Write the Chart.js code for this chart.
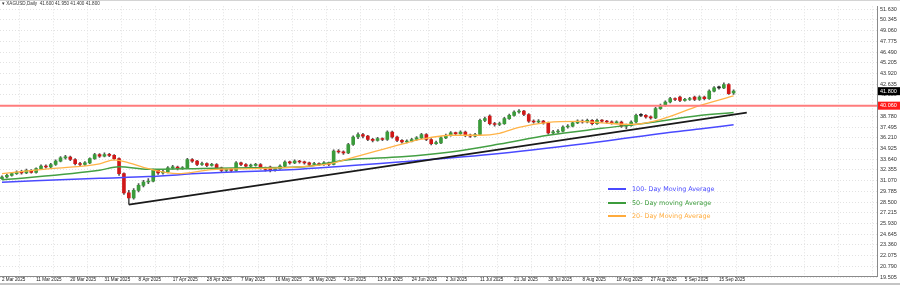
<!DOCTYPE html>
<html>
<head>
<meta charset="utf-8">
<script src="https://cdn.jsdelivr.net/npm/chart.js@4.4.1/dist/chart.umd.min.js"></script>
<style>
body{margin:0;background:#fff;}
#wrap{position:relative;width:900px;height:285px;overflow:hidden;}
#titolo{position:absolute;left:2px;top:1px;font-family:"Liberation Sans",sans-serif;font-size:4.6px;line-height:6px;color:#333;white-space:pre;}
.leg{position:absolute;left:608px;font-family:"DejaVu Sans",sans-serif;font-size:6.4px;line-height:7px;white-space:nowrap;}
.leg span{display:inline-block;width:18px;height:1.6px;vertical-align:middle;margin-right:6px;}
#sopra{position:absolute;left:0;top:0;width:900px;height:1px;background:#d4d4d4;}
#fondo{position:absolute;left:0;bottom:0;width:900px;height:2px;background:#c4c4c4;}
</style>
</head>
<body>
<div id="wrap">
  <canvas id="grafico" width="900" height="285"></canvas>
  <div id="sopra"></div>
  <div id="titolo">▾ XAGUSD,Daily  41.600 41.950 41.400 41.800</div>
  <div class="leg" style="top:185.5px;color:#4a4aff"><span style="background:#4a4aff"></span>100- Day Moving Average</div>
  <div class="leg" style="top:199.5px;color:#3c9c3c"><span style="background:#3c9c3c;height:2px"></span>50- Day moving Average</div>
  <div class="leg" style="top:213px;color:#ffab3c"><span style="background:#ffab3c"></span>20- Day Moving Average</div>
  <div id="fondo"></div>
</div>
<script>
// etichette delle date (una ogni 7 barre)
var etichetteDate = ["2 Mar 2025","11 Mar 2025","20 Mar 2025","31 Mar 2025","8 Apr 2025","17 Apr 2025",
    "28 Apr 2025","7 May 2025","16 May 2025","26 May 2025","4 Jun 2025","13 Jun 2025","24 Jun 2025",
    "2 Jul 2025","11 Jul 2025","21 Jul 2025","30 Jul 2025","8 Aug 2025","18 Aug 2025","27 Aug 2025",
    "5 Sep 2025","15 Sep 2025"];

// prezzi sull'asse destro
var tickPrezzi = [51.630, 50.345, 49.060, 47.775, 46.490, 45.205, 43.920, 42.635, 41.350, 40.065,
    38.780, 37.495, 36.210, 34.925, 33.640, 32.355, 31.070, 29.785, 28.500, 27.215, 25.930,
    24.645, 23.360, 22.075, 20.790, 19.505];

// candele giornaliere
var aperture = [31.30,31.50,31.70,31.90,32.10,32.00,32.30,32.05,32.50,32.80,
    32.70,33.00,33.40,33.80,33.90,33.60,33.10,33.00,33.20,33.70,
    34.20,34.00,34.20,34.10,33.70,31.90,29.60,29.00,29.90,30.50,
    30.90,31.00,32.30,32.00,32.10,32.60,32.70,32.50,32.60,33.60,
    33.40,33.00,33.10,32.90,33.00,32.60,32.30,32.40,32.30,33.20,
    33.00,32.80,32.90,33.00,32.60,32.70,32.30,32.50,32.80,33.30,
    33.20,33.40,33.30,33.20,33.00,33.10,33.00,33.20,33.00,34.60,
    34.50,34.40,35.40,36.30,36.60,36.40,36.00,35.90,36.10,36.00,
    36.90,36.30,35.90,35.70,35.80,36.00,36.20,36.60,36.00,35.50,
    35.60,36.20,36.50,36.80,36.70,36.90,36.50,36.40,36.60,38.30,
    38.80,37.90,37.80,37.90,38.50,38.90,39.30,39.40,39.00,38.20,
    38.10,38.20,38.00,36.80,36.90,37.00,37.50,37.60,38.00,38.20,
    38.10,38.30,37.90,38.30,38.20,38.10,38.00,38.10,37.60,37.70,
    38.10,38.90,38.90,38.70,38.60,39.70,40.10,40.50,40.90,41.10,
    40.70,40.80,41.10,40.80,41.10,40.90,41.80,42.20,42.20,42.60,
    41.60];
var chiusure = [31.50,31.70,31.90,32.10,32.00,32.30,32.05,32.50,32.80,32.70,
    33.00,33.40,33.80,33.90,33.60,33.10,33.00,33.20,33.70,34.20,
    34.00,34.20,34.10,33.70,31.90,29.60,29.00,29.90,30.50,30.90,
    31.00,32.30,32.00,32.10,32.60,32.70,32.50,32.60,33.60,33.40,
    33.00,33.10,32.90,33.00,32.60,32.30,32.40,32.30,33.20,33.00,
    32.80,32.90,33.00,32.60,32.40,32.30,32.50,32.80,33.30,33.20,
    33.40,33.30,33.20,33.00,33.10,33.00,33.20,33.00,34.60,34.50,
    34.40,35.40,36.30,36.60,36.40,36.00,35.90,36.10,36.00,36.90,
    36.30,35.90,35.70,35.80,36.00,36.20,36.60,36.00,35.50,35.60,
    36.20,36.50,36.80,36.70,36.90,36.50,36.40,36.60,38.30,38.50,
    37.90,37.80,37.90,38.50,38.90,39.30,39.40,39.00,38.20,38.10,
    38.20,38.00,36.80,36.90,37.00,37.50,37.60,38.00,38.20,38.10,
    38.30,37.90,38.30,38.20,38.10,38.00,38.10,37.60,37.70,38.10,
    38.90,38.90,38.70,38.60,39.70,40.10,40.50,40.90,40.80,40.70,
    40.80,40.90,40.80,41.10,40.90,41.80,42.20,42.20,42.60,41.50,
    41.80];
var massimi = [31.65,31.85,32.05,32.25,32.30,32.45,32.40,32.60,32.95,32.95,
    33.15,33.55,33.95,34.10,34.00,33.70,33.25,33.35,33.80,34.35,
    34.30,34.40,34.35,34.20,33.80,32.00,29.90,30.10,30.70,31.10,
    31.30,32.45,32.40,32.30,32.75,32.90,32.80,32.75,33.75,33.70,
    33.50,33.30,33.20,33.15,33.10,32.70,32.55,32.50,33.35,33.30,
    33.10,33.05,33.15,33.10,32.70,32.80,32.65,32.95,33.45,33.40,
    33.55,33.50,33.40,33.30,33.25,33.20,33.35,33.30,34.75,34.80,
    34.65,35.55,36.45,36.80,36.75,36.50,36.15,36.25,36.20,37.05,
    37.00,36.40,36.00,35.95,36.15,36.35,36.75,36.70,36.10,35.80,
    36.35,36.65,36.95,36.90,37.05,37.00,36.65,36.75,38.45,38.70,
    38.95,38.05,38.10,38.65,39.05,39.45,39.60,39.50,39.10,38.35,
    38.40,38.30,38.10,37.10,37.20,37.65,37.80,38.15,38.35,38.35,
    38.45,38.40,38.45,38.40,38.30,38.25,38.25,38.20,37.85,38.25,
    39.05,39.10,39.00,38.85,39.85,40.25,40.65,41.05,41.00,41.20,
    40.95,41.05,41.20,41.25,41.20,41.95,42.35,42.40,42.80,42.70,
    41.95];
var minimi = [31.20,31.40,31.60,31.80,31.85,31.90,31.95,31.95,32.40,32.55,
    32.60,32.90,33.30,33.65,33.45,32.95,32.85,32.90,33.10,33.60,
    33.85,33.90,33.95,33.55,31.70,29.40,28.25,28.85,29.70,30.30,
    30.70,30.90,31.80,31.85,32.00,32.45,32.35,32.40,32.50,33.25,
    32.85,32.90,32.75,32.80,32.45,32.15,32.15,32.10,32.20,32.85,
    32.65,32.70,32.80,32.45,32.20,32.10,32.20,32.40,32.70,33.05,
    33.10,33.15,33.05,32.85,32.90,32.85,32.90,32.85,32.95,34.35,
    34.20,34.30,35.30,36.10,36.20,35.85,35.70,35.80,35.85,35.90,
    36.15,35.75,35.55,35.60,35.70,35.90,36.10,35.85,35.35,35.40,
    35.50,36.10,36.40,36.55,36.60,36.35,36.25,36.30,36.50,38.15,
    37.75,37.60,37.65,37.80,38.40,38.80,39.15,38.85,38.05,37.95,
    38.00,37.85,36.65,36.60,36.75,36.90,37.35,37.50,37.90,37.95,
    38.00,37.75,37.80,38.05,37.95,37.85,37.90,37.45,37.30,37.60,
    38.00,38.75,38.55,38.45,38.50,39.60,40.00,40.40,40.65,40.55,
    40.60,40.70,40.65,40.70,40.75,40.80,41.70,42.05,42.10,41.40,
    41.40];

// medie mobili (barra, valore)
var ma100Idx = [0, 20, 30, 41, 61, 82, 102, 123, 136, 143, 150];
var ma100 = [30.88, 31.35, 31.55, 31.94, 32.44, 33.32, 34.31, 35.75, 36.79, 37.26, 37.78];
var ma50Idx = [0, 20, 24, 30, 41, 51, 61, 71, 82, 92, 102, 112, 123, 133, 143, 150];
var ma50 = [31.16, 32.32, 32.73, 32.42, 32.53, 32.62, 32.70, 33.56, 33.92, 34.51, 35.45, 36.51, 37.34, 38.05, 38.88, 39.23];
var ma20Idx = [0, 10, 20, 23, 26, 30, 36, 43, 51, 61, 67, 71, 82, 86, 92, 98, 102, 106, 112, 118, 123, 129, 135, 143, 150];
var ma20 = [31.91, 32.50, 33.09, 33.56, 33.20, 32.50, 31.91, 32.38, 32.50, 32.73, 33.09, 33.68, 35.45, 36.04,
    36.51, 36.51, 36.75, 37.46, 38.05, 38.17, 38.00, 37.81, 38.40, 40.06, 41.24];

// linea di tendenza e livelli
var trendInizio = [26, 28.2];
var trendFine = [152.7, 39.23];
var livelloRosso = 40.06;
var ultimoPrezzo = 41.80;

var VERDE = "#3b9b3b", ROSSO = "#d01818", NERO = "#222";
var xMin = -0.41, xMax = 179.4;

function punti(idx, val){
    return idx.map((x, k) => ({x: x, y: val[k]}));
}

window.onload = function(){
    let corpi = [], ombre = [], colori = [];
    for(let i=0; i<chiusure.length; i++){
        corpi.push({x: i, y: [aperture[i], chiusure[i]]});
        ombre.push({x: i, y: [minimi[i], massimi[i]]});
        if(chiusure[i] > aperture[i]) colori.push(VERDE);
        else if(chiusure[i] < aperture[i]) colori.push(ROSSO);
        else colori.push(NERO);
    }

    let xTick = [];
    for(let k=0; k*7 <= 175; k++) xTick.push(k*7);

    // etichette colorate sull'asse dei prezzi
    let etichettePrezzo = {
        id: "etichettePrezzo",
        afterDraw(chart){
            let c = chart.ctx, sy = chart.scales.y;
            for(let e of [[livelloRosso, "#ff1a1a"], [ultimoPrezzo, "#000"]]){
                let py = sy.getPixelForValue(e[0]);
                c.save();
                c.fillStyle = e[1];
                c.fillRect(878, py - 4, 22, 8);
                c.fillStyle = "#fff";
                c.font = "5.5px 'Liberation Sans'";
                c.textBaseline = "middle";
                c.fillText(e[0].toFixed(3), 880, py);
                c.restore();
            }
        }
    };

    new Chart(document.getElementById("grafico"), {
        type: "bar",
        data: {
            datasets: [
                {type: "line", data: [{x: xMin, y: livelloRosso}, {x: xMax, y: livelloRosso}],
                    borderColor: "#ff7c7c", borderWidth: 2, pointRadius: 0, order: 0},
                {type: "line", data: [{x: trendInizio[0], y: trendInizio[1]}, {x: trendFine[0], y: trendFine[1]}],
                    borderColor: "#1a1a1a", borderWidth: 1.8, pointRadius: 0, order: 0},
                {type: "line", data: punti(ma20Idx, ma20), borderColor: "#ffb347", borderWidth: 1.3,
                    pointRadius: 0, cubicInterpolationMode: "monotone", order: 1},
                {type: "line", data: punti(ma50Idx, ma50), borderColor: "#44a044", borderWidth: 1.5,
                    pointRadius: 0, cubicInterpolationMode: "monotone", order: 1},
                {type: "line", data: punti(ma100Idx, ma100), borderColor: "#4a4aff", borderWidth: 1.5,
                    pointRadius: 0, cubicInterpolationMode: "monotone", order: 1},
                {data: corpi, backgroundColor: colori, barThickness: 3, minBarLength: 1,
                    grouped: false, order: 2},
                {data: ombre, backgroundColor: "#555", barThickness: 1, grouped: false, order: 3}
            ]
        },
        options: {
            responsive: false,
            animation: false,
            layout: {padding: {top: 2, left: 0, right: 0, bottom: 0}},
            plugins: {legend: {display: false}, tooltip: {enabled: false}},
            scales: {
                x: {
                    type: "linear", min: xMin, max: xMax, offset: false, bounds: "data",
                    grid: {offset: true, color: "#e2e2e2", drawTicks: false, tickLength: 0},
                    border: {display: true, color: "#8a8a8a", dash: [1, 2]},
                    ticks: {
                        autoSkip: false, maxRotation: 0, align: "start", padding: 1,
                        color: "#222", font: {size: 4.6, family: "Liberation Sans"},
                        callback: v => etichetteDate[v / 7] || ""
                    },
                    afterBuildTicks: s => { s.ticks = xTick.map(v => ({value: v})); },
                    afterFit: s => { s.height = 9; }
                },
                y: {
                    type: "linear", position: "right", min: 19.625, max: 51.984,
                    beginAtZero: false, bounds: "data",
                    grid: {color: "#e2e2e2", drawTicks: false, tickLength: 0},
                    border: {display: true, color: "#8a8a8a", dash: [1, 2]},
                    ticks: {
                        padding: 3, color: "#333", font: {size: 5.5, family: "Liberation Sans"},
                        callback: v => v.toFixed(3)
                    },
                    afterBuildTicks: s => { s.ticks = tickPrezzi.map(v => ({value: v})); },
                    afterFit: s => { s.width = 23; }
                }
            }
        },
        plugins: [etichettePrezzo]
    });
};
</script>
</body>
</html>
